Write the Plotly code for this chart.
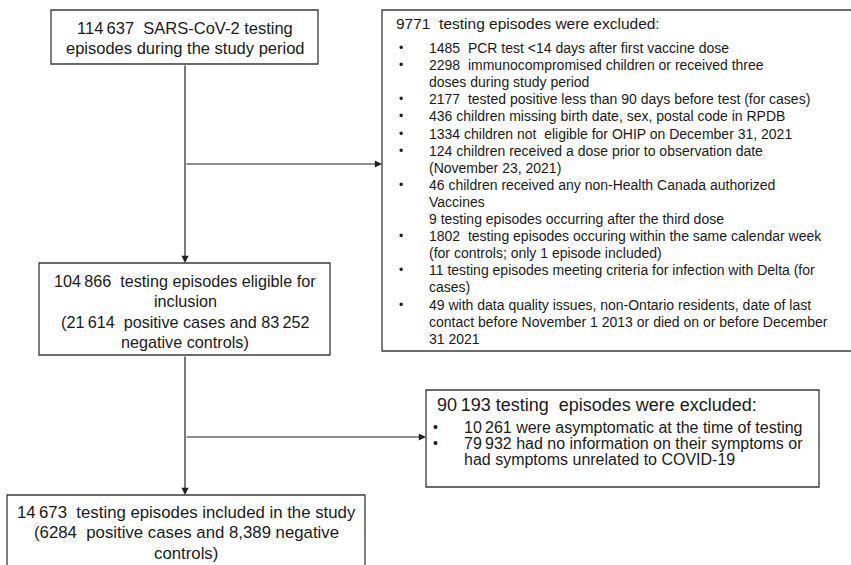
import plotly.graph_objects as go

W, H = 851, 565
TS = "\u2009"   # thin space used as thousands separator
NB = "\u00a0"

box1_lines = [f"114{TS}637{NB} SARS-CoV-2 testing", "episodes during the study period"]

excl1_header = f"9771{NB} testing episodes were excluded:"
excl1_lines = [
    (True,  f"1485{NB} PCR test <14 days after first vaccine dose"),
    (True,  f"2298{NB} immunocompromised children or received three"),
    (False, "doses during study period"),
    (True,  f"2177{NB} tested positive less than 90 days before test (for cases)"),
    (True,  "436 children missing birth date, sex, postal code in RPDB"),
    (True,  f"1334 children not{NB} eligible for OHIP on December 31, 2021"),
    (True,  "124 children received a dose prior to observation date"),
    (False, "(November 23, 2021)"),
    (True,  "46 children received any non-Health Canada authorized"),
    (False, "Vaccines"),
    (False, "9 testing episodes occurring after the third dose"),
    (True,  f"1802{NB} testing episodes occuring within the same calendar week"),
    (False, "(for controls; only 1 episode included)"),
    (True,  "11 testing episodes meeting criteria for infection with Delta (for"),
    (False, "cases)"),
    (True,  "49 with data quality issues, non-Ontario residents, date of last"),
    (False, "contact before November 1 2013 or died on or before December"),
    (False, "31 2021"),
]

box3_lines = [f"104{TS}866{NB} testing episodes eligible for", "inclusion",
              f"(21{TS}614{NB} positive cases and 83{TS}252", "negative controls)"]

excl2_header = f"90{TS}193 testing{NB} episodes were excluded:"
excl2_lines = [
    (True,  f"10{TS}261 were asymptomatic at the time of testing"),
    (True,  f"79{TS}932 had no information on their symptoms or"),
    (False, "had symptoms unrelated to COVID-19"),
]

box5_lines = [f"14{TS}673{NB} testing episodes included in the study",
              f"(6284{NB} positive cases and 8,389 negative", "controls)"]

FONT = "Arial, Liberation Sans, sans-serif"
TXT = "#1a1a1a"
LINE = "#3a3a3a"

fig = go.Figure()
shapes = []
ann = []

def rect(x0, y0, x1, y1):
    shapes.append(dict(type="rect", x0=x0, y0=y0, x1=x1, y1=y1, xref="x", yref="y",
                       line=dict(color=LINE, width=1.3), fillcolor="rgba(0,0,0,0)"))

def path(p):
    shapes.append(dict(type="path", path=p, xref="x", yref="y",
                       line=dict(color=LINE, width=1.3)))

def text(x, y, s, size, anchor="center"):
    ann.append(dict(x=x, y=y, xref="x", yref="y", text=s, showarrow=False,
                    xanchor=anchor, yanchor="middle",
                    font=dict(family=FONT, size=size, color=TXT)))

def arrow(x0, y0, x1, y1):
    ann.append(dict(x=x1, y=y1, ax=x0, ay=y0, xref="x", yref="y", axref="x", ayref="y",
                    text="", showarrow=True, arrowhead=2, arrowsize=1.2, arrowwidth=1.2,
                    arrowcolor="#222", standoff=0))

# Box 1
rect(51, 10, 318, 64)
for i, s in enumerate(box1_lines):
    text(185, 28 + i * 20, s, 16.5)

# Exclusion box 1 (extends beyond right edge)
path("M 852 10 L 382 10 L 382 351 L 852 351")
text(394, 23, excl1_header, 15.5, "left")
for i, (b, s) in enumerate(excl1_lines):
    y = 48 + i * 17.1
    if b:
        text(401, y, "•", 12, "center")
    text(427, y, s, 14, "left")

# Box 3
rect(39, 263, 330, 355)
for i, s in enumerate(box3_lines):
    text(185, 281 + i * 20.3, s, 16.2)

# Exclusion box 2
rect(426, 390, 819, 487)
text(435, 405, excl2_header, 18, "left")
for i, (b, s) in enumerate(excl2_lines):
    y = 427 + i * 16.3
    if b:
        text(435, y, "•", 14, "center")
    text(462, y, s, 16, "left")

# Box 5 (extends beyond bottom edge)
path("M 7 567 L 7 495 L 365 495 L 365 567")
for i, s in enumerate(box5_lines):
    text(186, 512 + i * 20.5, s, 16.8)

# Connectors
arrow(185, 64, 185, 263)
arrow(185, 164, 382, 164)
arrow(185, 355, 185, 495)
arrow(185, 437, 426, 437)

fig.update_layout(
    width=W, height=H, margin=dict(l=0, r=0, t=0, b=0),
    paper_bgcolor="white", plot_bgcolor="white",
    xaxis=dict(range=[0, W], visible=False, fixedrange=True),
    yaxis=dict(range=[H, 0], visible=False, fixedrange=True),
    shapes=shapes, annotations=ann, showlegend=False,
)
fig.write_html("out.html", config={"displayModeBar": False},
               post_script="document.body.style.margin='0';document.body.style.padding='0';")
